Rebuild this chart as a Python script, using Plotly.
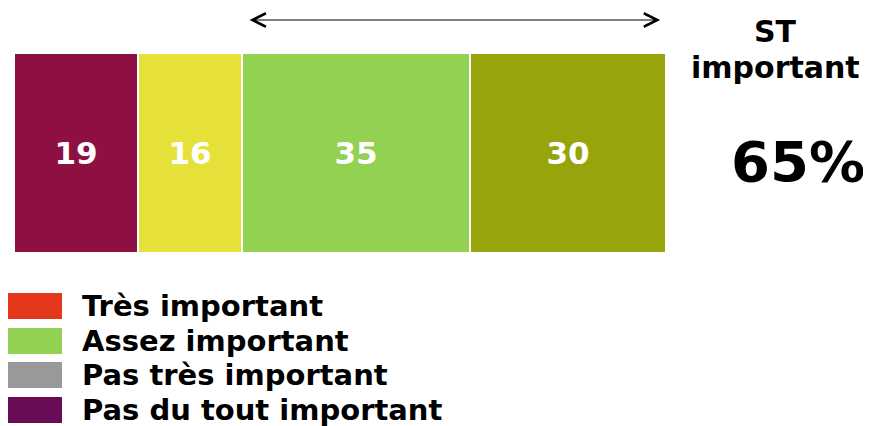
import plotly.graph_objects as go

# Data
categories = ["Pas du tout important", "Pas très important", "Assez important", "Très important"]
values = [19, 16, 35, 30]
bar_colors = ["#8E0F42", "#E6E13A", "#93D152", "#98A40C"]

legend_labels = ["Très important", "Assez important", "Pas très important", "Pas du tout important"]
legend_colors = ["#E5381A", "#93D152", "#999999", "#6A0B55"]

st_value = values[2] + values[3]

W, H = 871, 426
OFF = 8  # page body margin
FW, FH = W - OFF, H - OFF
FONT = "DejaVu Sans"

fig = go.Figure()
for cat, val, col in zip(categories, values, bar_colors):
    fig.add_trace(go.Bar(
        x=[val], y=[0], orientation="h", name=cat,
        marker=dict(color=col, line=dict(color="white", width=2)),
        width=1,
        text=[f"<b>{val}</b>"], textposition="inside", insidetextanchor="middle",
        textangle=0,
        textfont=dict(color="white", size=31, family=FONT),
        hoverinfo="skip",
    ))

def px_x(p):
    return (p - OFF) / FW

def px_y(p):
    return 1 - (p - OFF) / FH

shapes = []
annotations = []

# Legend (custom boxes)
box_tops = [293, 328, 362, 397]
for lab, col, top in zip(legend_labels, legend_colors, box_tops):
    shapes.append(dict(type="rect", xref="paper", yref="paper",
                       x0=px_x(8), x1=px_x(62), y0=px_y(top + 26), y1=px_y(top),
                       fillcolor=col, line=dict(width=0)))
    annotations.append(dict(xref="paper", yref="paper", x=px_x(80), y=px_y(top + 13),
                            xanchor="left", yanchor="middle", showarrow=False,
                            text=f"<b>{lab}</b>",
                            font=dict(family=FONT, size=29, color="black")))

# Double arrow over the "ST important" segments
start = values[0] + values[1]
total = sum(values)
annotations.append(dict(xref="x", yref="paper", axref="x", ayref="pixel",
                        x=total - 0.9, y=px_y(20), ax=start + 0.9, ay=0,
                        showarrow=True, arrowhead=5, startarrowhead=5,
                        arrowside="end+start", arrowsize=2.2, startarrowsize=2.2,
                        arrowwidth=1.2, arrowcolor="black", text=""))

annotations.append(dict(xref="paper", yref="paper", x=px_x(775), y=px_y(32),
                        xanchor="center", yanchor="middle", showarrow=False,
                        text="<b>ST</b>", font=dict(family=FONT, size=30, color="black")))
annotations.append(dict(xref="paper", yref="paper", x=px_x(775), y=px_y(67),
                        xanchor="center", yanchor="middle", showarrow=False,
                        text="<b>important</b>", font=dict(family=FONT, size=30, color="black")))
annotations.append(dict(xref="paper", yref="paper", x=px_x(798), y=px_y(161),
                        xanchor="center", yanchor="middle", showarrow=False,
                        text=f"<b>{st_value}%</b>", font=dict(family=FONT, size=56, color="black")))

fig.update_layout(
    width=FW, height=FH,
    margin=dict(l=0, r=0, t=0, b=0),
    paper_bgcolor="white", plot_bgcolor="white",
    barmode="stack", bargap=0,
    showlegend=False,
    xaxis=dict(domain=[px_x(14), px_x(666)], range=[0, total], visible=False, fixedrange=True),
    yaxis=dict(domain=[px_y(253), px_y(53)], range=[-0.5, 0.5], visible=False, fixedrange=True),
    shapes=shapes,
    annotations=annotations,
    font=dict(family=FONT),
)

fig.write_html("out.html", config={"displayModeBar": False})
